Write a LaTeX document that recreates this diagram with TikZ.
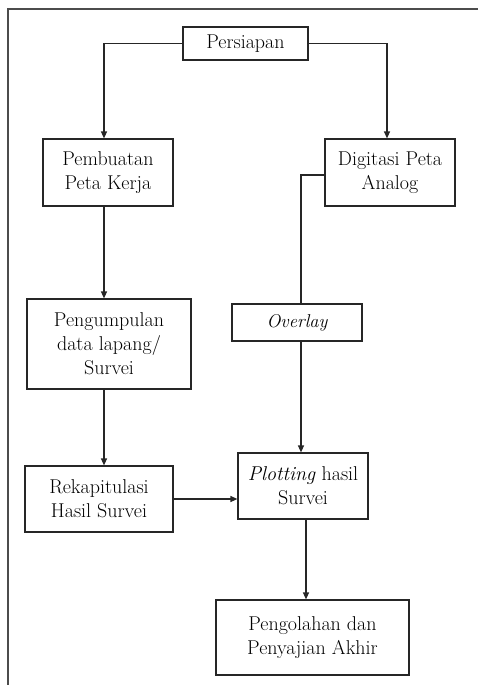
\documentclass[tikz,border=0pt]{standalone}
\usepackage{fontspec}
\usetikzlibrary{arrows.meta}
\begin{document}
\begin{tikzpicture}[x=1pt,y=-1pt,
  box/.style={draw=black!85,line width=1.2pt,align=center,inner sep=0pt,
    font=\fontsize{20}{24}\selectfont},
  arr/.style={draw=black!85,line width=1.2pt,-{Triangle[length=7pt,width=6pt]}},
  ln/.style={draw=black!85,line width=1.2pt},
  frame/.style={draw=black!70,line width=1.6pt}]
\useasboundingbox (0,0) rectangle (477,685);
\draw[frame] (8,690) -- (8,9) -- (480,9);
\node[box,minimum width=125pt,minimum height=33pt] (persiapan) at (245.5,43.5) {Persiapan};
\node[box,minimum width=130pt,minimum height=67pt] (pembuatan) at (108,172.5) {Pembuatan\\Peta Kerja};
\node[box,minimum width=130pt,minimum height=67pt] (digitasi) at (390,172.5) {Digitasi Peta\\Analog};
\node[box,minimum width=164pt,minimum height=90pt] (pengumpulan) at (109,344) {Pengumpulan\\data lapang/\\Survei};
\node[box,minimum width=130pt,minimum height=37pt] (overlay) at (297,322.5) {\fontsize{18.5}{22}\selectfont\itshape Overlay};
\node[box,minimum width=148pt,minimum height=66pt] (rekap) at (99,499) {Rekapitulasi\\Hasil Survei};
\node[box,minimum width=130pt,minimum height=66pt] (plotting) at (303,486) {\textit{Plotting} hasil\\Survei};
\node[box,minimum width=193pt,minimum height=75pt] (pengolahan) at (312.5,637.5) {Pengolahan dan\\Penyajian Akhir};
\draw[arr] (persiapan.west) -| ([xshift=-4pt]pembuatan.north);
\draw[arr] (persiapan.east) -| ([xshift=-3pt]digitasi.north);
\draw[ln] ([yshift=-2.5pt]digitasi.west) -| ([xshift=4pt]overlay.north);
\draw[arr] ([xshift=4pt]overlay.south) -- ([xshift=-2pt]plotting.north);
\draw[arr] ([xshift=-4pt]pembuatan.south) -- ([xshift=-5pt]pengumpulan.north);
\draw[arr] ([xshift=-5pt]pengumpulan.south) -- ([xshift=5pt]rekap.north);
\draw[arr] (rekap.east) -- (rekap.east -| plotting.west);
\draw[arr] ([xshift=3pt]plotting.south) -- ([xshift=-6.5pt]pengolahan.north);
\end{tikzpicture}
\end{document}
